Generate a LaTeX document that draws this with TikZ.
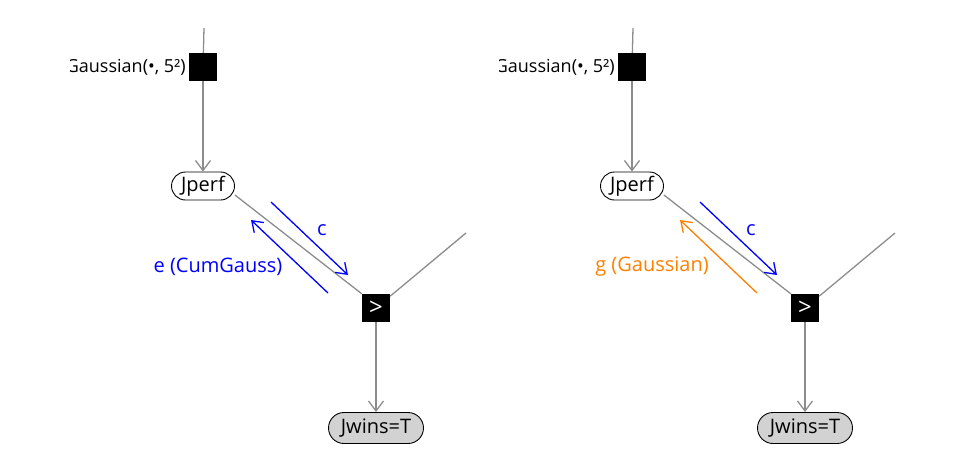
\documentclass[tikz,border=0pt]{standalone}
\usepackage{fontspec}
\setmainfont{Open Sans}
\usetikzlibrary{arrows.meta}

\begin{document}
\begin{tikzpicture}[x=1pt,y=-1pt,
  font=\fontsize{20}{22}\selectfont,
  edge/.style={draw=black!45, line width=1.3pt},
  tip/.style={-{Straight Barb[length=10pt,width=15pt]}},
  msg/.style={line width=1.3pt, -{Straight Barb[length=10pt,width=14pt]}},
  factorbox/.style={fill=black, minimum size=28pt, inner sep=0pt},
  factorlabel/.style={anchor=east, inner sep=0pt, font=\fontsize{18}{20}\selectfont},
  varnode/.style={draw, line width=0.9pt, rounded corners=14pt, minimum width=63pt, minimum height=28pt, inner sep=0pt},
  obsnode/.style={varnode, fill=gray!35, rounded corners=15.5pt, minimum width=95pt, minimum height=31pt}]
\useasboundingbox (0,0) rectangle (972,456);

% left panel
\begin{scope}
\clip (70,0) rectangle (490,456);
\coordinate (topL) at (204,28);
\coordinate (rightL) at (466,233);
\node[factorbox] (facL) at (203,67) {};
\node[factorlabel] (labL) at (186,67) {Gaussian(•, 5²)};
\node[varnode] (jperfL) at (203,186) {Jperf};
\node[factorbox, text=white] (gtL) at (376,308) {\fontsize{24}{24}\selectfont >};
\node[obsnode] (jwinsL) at (376,428) {Jwins=T};
\draw[edge] (topL) -- (facL);
\draw[edge, tip] (facL) -- (jperfL);
\draw[edge] ([yshift=-9pt]jperfL.east) -- (gtL.north west);
\draw[edge] (gtL) -- (rightL);
\draw[edge, tip] (gtL) -- (jwinsL);
% messages
\coordinate (cL1) at (271,202);
\coordinate (cL2) at (348,275);
\coordinate (eL1) at (328,293);
\coordinate (eL2) at (251,220);
\draw[msg, blue] (cL1) -- (cL2);
\draw[msg, blue] (eL1) -- (eL2);
\node[text=blue] (cLabL) at (322,230) {c};
\node[text=blue] (eLabL) at (218,267) {e (CumGauss)};
\end{scope}

% right panel
\begin{scope}
\clip (499,0) rectangle (972,456);
\coordinate (topR) at (633,28);
\coordinate (rightR) at (895,233);
\node[factorbox] (facR) at (632,67) {};
\node[factorlabel] (labR) at (615,67) {Gaussian(•, 5²)};
\node[varnode] (jperfR) at (632,186) {Jperf};
\node[factorbox, text=white] (gtR) at (805,308) {\fontsize{24}{24}\selectfont >};
\node[obsnode] (jwinsR) at (805,428) {Jwins=T};
\draw[edge] (topR) -- (facR);
\draw[edge, tip] (facR) -- (jperfR);
\draw[edge] ([yshift=-9pt]jperfR.east) -- (gtR.north west);
\draw[edge] (gtR) -- (rightR);
\draw[edge, tip] (gtR) -- (jwinsR);
% messages
\coordinate (cR1) at (700,202);
\coordinate (cR2) at (777,275);
\coordinate (gR1) at (757,293);
\coordinate (gR2) at (680,220);
\draw[msg, blue] (cR1) -- (cR2);
\draw[msg, orange] (gR1) -- (gR2);
\node[text=blue] (cLabR) at (751,230) {c};
\node[text=orange] (gLabR) at (652,267) {g (Gaussian)};
\end{scope}
\end{tikzpicture}
\end{document}
